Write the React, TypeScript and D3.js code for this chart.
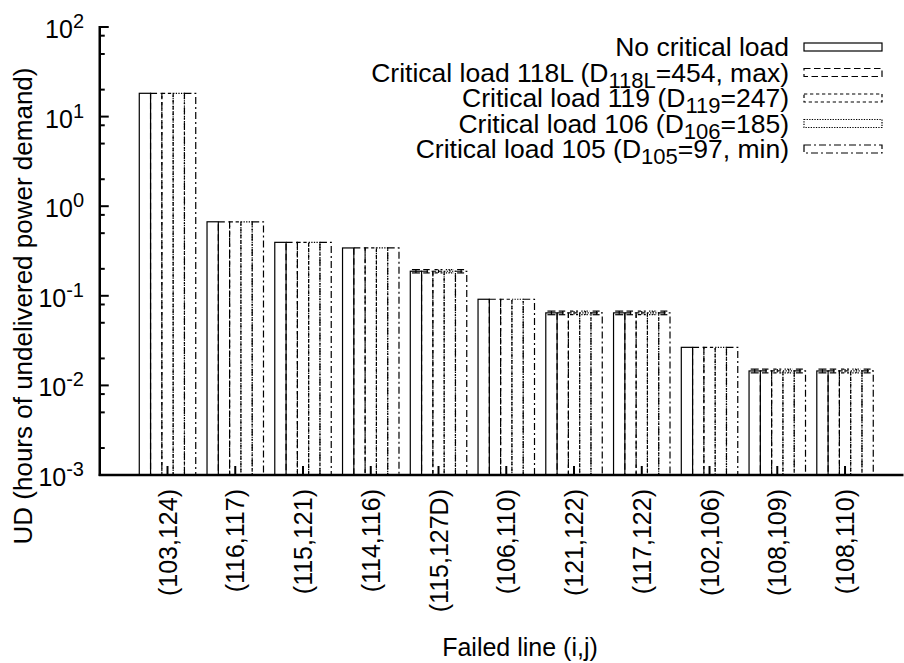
import React from "react";
import * as d3 from "d3";

// Failed transmission lines (x categories)
const failedLines = [
  "(103,124)", "(116,117)", "(115,121)", "(114,116)", "(115,127D)", "(106,110)",
  "(121,122)", "(117,122)", "(102,106)", "(108,109)", "(108,110)",
];

// Hours of undelivered power demand, one array per critical-load scenario
const noCritical = [18.2, 0.67, 0.395, 0.342, 0.188, 0.0915, 0.0645, 0.0645, 0.0266, 0.0145, 0.0145];
const critical118L = [18.2, 0.67, 0.395, 0.342, 0.188, 0.0915, 0.0645, 0.0645, 0.0266, 0.0145, 0.0145];
const critical119 = [18.2, 0.67, 0.395, 0.342, 0.188, 0.0915, 0.0645, 0.0645, 0.0266, 0.0145, 0.0145];
const critical106 = [18.2, 0.67, 0.395, 0.342, 0.188, 0.0915, 0.0645, 0.0645, 0.0266, 0.0145, 0.0145];
const critical105 = [18.2, 0.67, 0.395, 0.342, 0.188, 0.0915, 0.0645, 0.0645, 0.0266, 0.0145, 0.0145];

// Half-width of the confidence interval for each failed line
const noCriticalErr = [0, 0, 0, 0, 0.008, 0, 0.003, 0.003, 0, 0.0007, 0.0007];
const critical118LErr = [0, 0, 0, 0, 0.008, 0, 0.003, 0.003, 0, 0.0007, 0.0007];
const critical119Err = [0, 0, 0, 0, 0.008, 0, 0.003, 0.003, 0, 0.0007, 0.0007];
const critical106Err = [0, 0, 0, 0, 0.008, 0, 0.003, 0.003, 0, 0.0007, 0.0007];
const critical105Err = [0, 0, 0, 0, 0.008, 0, 0.003, 0.003, 0, 0.0007, 0.0007];

const yTickExponents = [2, 1, 0, -1, -2, -3];
const yMinorMultipliers = [2, 5, 8];

type Part = { text: string; sub?: boolean };
const seriesLabels: Part[][] = [
  [{ text: "No critical load" }],
  [{ text: "Critical load 118L (D" }, { text: "118L", sub: true }, { text: "=454, max)" }],
  [{ text: "Critical load 119 (D" }, { text: "119", sub: true }, { text: "=247)" }],
  [{ text: "Critical load 106 (D" }, { text: "106", sub: true }, { text: "=185)" }],
  [{ text: "Critical load 105 (D" }, { text: "105", sub: true }, { text: "=97, min)" }],
];

const series = [
  { values: noCritical, errors: noCriticalErr, dash: "none" },
  { values: critical118L, errors: critical118LErr, dash: "6.5,3.5" },
  { values: critical119, errors: critical119Err, dash: "3.3,2.7" },
  { values: critical106, errors: critical106Err, dash: "1.3,1.3" },
  { values: critical105, errors: critical105Err, dash: "7,3,2,3" },
];

const FONT = "'Liberation Sans', Arial, Helvetica, sans-serif";
const FS = 25;
const LEGEND_FS = 26.5;
const LEGEND_SUB_FS = 22;

export default function App() {
  const W = 904;
  const H = 663;
  const x = d3.scaleLinear().domain([-1, 10.86]).range([99.75, 903.3]);
  const y = d3.scaleLog().domain([1e-3, 1e2]).range([475, 27]);
  const unit = x(1) - x(0);
  const nSeries = series.length;
  const barW = unit / (nSeries + 1);
  const axisLeft = x(-1);
  const axisBottom = y(1e-3);

  const minorTicks: number[] = [];
  yTickExponents.slice(1).forEach((e) => {
    yMinorMultipliers.forEach((m) => minorTicks.push(m * Math.pow(10, e)));
  });

  return (
    <svg
      width={W}
      height={H}
      style={{ position: "absolute", left: 0, top: 0, background: "#fff" }}
      fontFamily={FONT}
    >
      {/* bars */}
      {series.map((s, k) =>
        s.values.map((v, i) => {
          const cx = x(i) + (k - (nSeries - 1) / 2) * barW;
          const top = y(v);
          const err = s.errors[i];
          return (
            <g key={`b${k}-${i}`} stroke="#000" strokeWidth={1.2} fill="none" strokeDasharray={s.dash}>
              <rect x={cx - barW / 2} y={top} width={barW} height={axisBottom - top} />
              {err > 0 && (
                <g>
                  <line x1={cx} x2={cx} y1={y(v + err)} y2={y(v - err)} />
                  <line x1={cx - 4} x2={cx + 4} y1={y(v + err)} y2={y(v + err)} />
                  <line x1={cx - 4} x2={cx + 4} y1={y(v - err)} y2={y(v - err)} />
                </g>
              )}
            </g>
          );
        })
      )}

      {/* axes */}
      <line x1={axisLeft} x2={axisLeft} y1={y(1e2) - 1} y2={axisBottom + 1} stroke="#000" strokeWidth={2.5} />
      <line x1={axisLeft - 1} x2={903.5} y1={axisBottom} y2={axisBottom} stroke="#000" strokeWidth={2.5} />

      {/* y ticks */}
      {yTickExponents.map((e) => (
        <line key={`yt${e}`} x1={axisLeft} x2={axisLeft + 9} y1={y(Math.pow(10, e))} y2={y(Math.pow(10, e))} stroke="#000" strokeWidth={2} />
      ))}
      {minorTicks.map((v, i) => (
        <line key={`ym${i}`} x1={axisLeft} x2={axisLeft + 5} y1={y(v)} y2={y(v)} stroke="#000" strokeWidth={2} />
      ))}
      {yTickExponents.map((e) => (
        <text key={`yl${e}`} x={84} y={y(Math.pow(10, e)) + 11} textAnchor="end" fontSize={FS} fill="#000">
          10
          <tspan fontSize={20} dy={-10}>{String(e)}</tspan>
        </text>
      ))}

      {/* x ticks and labels */}
      {failedLines.map((c, i) => (
        <g key={`x${i}`}>
          <line x1={x(i)} x2={x(i)} y1={axisBottom} y2={axisBottom - 9} stroke="#000" strokeWidth={2} />
          <text
            transform={`translate(${x(i)},489) rotate(-90)`}
            textAnchor="end"
            dy="0.36em"
            fontSize={FS}
            fill="#000"
          >
            {c}
          </text>
        </g>
      ))}

      {/* axis titles */}
      <text transform="translate(32,306) rotate(-90)" textAnchor="middle" fontSize={26} fill="#000">
        UD (hours of undelivered power demand)
      </text>
      <text x={520} y={656} textAnchor="middle" fontSize={FS} fill="#000">
        Failed line (i,j)
      </text>

      {/* legend */}
      {seriesLabels.map((parts, k) => {
        const cy = 47 + k * 25.5;
        return (
          <g key={`lg${k}`}>
            <text x={789} y={cy + 9} textAnchor="end" fontSize={LEGEND_FS} fill="#000">
              {parts.map((p, j) => {
                const prevSub = j > 0 && parts[j - 1].sub;
                return (
                  <tspan
                    key={j}
                    fontSize={p.sub ? LEGEND_SUB_FS : LEGEND_FS}
                    dy={p.sub ? 6 : prevSub ? -6 : 0}
                  >
                    {p.text}
                  </tspan>
                );
              })}
            </text>
            <rect
              x={804}
              y={cy - 4}
              width={78}
              height={8}
              fill="none"
              stroke="#000"
              strokeWidth={1.2}
              strokeDasharray={series[k].dash}
            />
          </g>
        );
      })}
    </svg>
  );
}
